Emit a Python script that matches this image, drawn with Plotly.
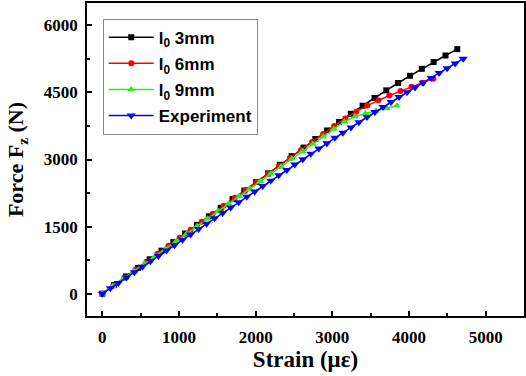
import plotly.graph_objects as go

# Black: l0 = 3mm
x3 = [0,154,309,463,617,772,926,1080,1235,1389,1543,1698,1852,2006,2161,2315,2469,2624,2778,2932,
      3087,3241,3395,3550,3704,3858,4013,4167,4321,4476,4630]
y3 = [0,192,385,576,768,961,1153,1345,1538,1729,1921,2114,2306,2497,2690,2882,3074,3267,3459,3650,
      3838,4022,4202,4376,4546,4711,4872,5028,5180,5326,5468]

# Red: l0 = 6mm
x6 = [0,144,288,432,576,720,864,1008,1152,1296,1440,1584,1728,1872,2016,2160,2304,2448,2592,2736,
      2880,3024,3168,3312,3456,3600,3744,3888,4032,4176,4318]
y6 = [0,179,357,536,714,893,1071,1250,1428,1607,1786,1964,2143,2321,2500,2678,2857,3035,3214,3393,
      3571,3750,3915,4070,4205,4325,4430,4530,4625,4718,4808]

# Green: l0 = 9mm
x9 = [0,137,275,412,549,686,824,961,1098,1235,1373,1510,1647,1784,1922,2059,2196,2333,2471,2608,
      2745,2882,3020,3157,3294,3431,3569,3706,3843]
y9 = [0,167,336,503,670,837,1005,1172,1340,1507,1675,1842,2009,2176,2345,2512,2679,2846,3015,3182,
      3349,3516,3684,3845,3960,4030,4090,4145,4200]

# Blue: experiment
xe = [0,105,209,314,418,523,628,732,837,941,1046,1151,1255,1360,1464,1569,1674,1778,1883,1987,
      2092,2197,2301,2406,2510,2615,2720,2824,2929,3033,3138,3243,3347,3452,3556,3661,3766,3870,
      3975,4079,4184,4289,4393,4498,4602,4707]
ye = [0,121,240,361,481,601,722,842,963,1082,1203,1324,1443,1564,1684,1804,1925,2045,2165,2285,
      2406,2527,2646,2767,2887,3007,3128,3247,3366,3484,3601,3718,3833,3948,4061,4173,4285,4395,
      4504,4612,4719,4825,4935,5042,5148,5255]

names = ["l<sub>0</sub> 3mm", "l<sub>0</sub> 6mm", "l<sub>0</sub> 9mm", "Experiment"]
colors = ["#000000", "#ff0000", "#22ee22", "#0000ff"]
symbols = ["square", "circle", "triangle-up", "triangle-down"]
sizes = [6, 6, 7, 8]
xs = [x3, x6, x9, xe]
ys = [y3, y6, y9, ye]

fig = go.Figure()
for i in range(4):
    fig.add_trace(go.Scatter(
        x=xs[i], y=ys[i], name=names[i], mode="lines+markers",
        line=dict(color=colors[i], width=1.5),
        marker=dict(symbol=symbols[i], size=sizes[i], color=colors[i]),
        legendgroup=str(i),
    ))

axis_common = dict(
    showline=True, linecolor="black", linewidth=1.8, mirror=True,
    ticks="inside", ticklen=5, tickwidth=1.5, tickcolor="black",
    showgrid=False, zeroline=False,
    tickfont=dict(family="Liberation Serif", size=17, color="black", weight="bold"),
    minor=dict(ticks="inside", ticklen=3, tickwidth=1.5, tickcolor="black"),
)

fig.update_xaxes(range=[-200, 5500], tickvals=[0, 1000, 2000, 3000, 4000, 5000],
                 minor_tickvals=[500, 1500, 2500, 3500, 4500],
                 title=dict(text="Strain (\u03bc\u03b5)", standoff=3,
                            font=dict(family="Liberation Serif", size=23, color="black", weight="bold")),
                 ticklabelstandoff=5, **axis_common)
fig.update_yaxes(range=[-500, 6500], tickvals=[0, 1500, 3000, 4500, 6000],
                 minor_tickvals=[750, 2250, 3750, 5250],
                 title=dict(text="Force F<sub>z</sub> (N)", standoff=14,
                            font=dict(family="Liberation Serif", size=22, color="black", weight="bold")),
                 ticklabelstandoff=4, **axis_common)

fig.update_layout(
    width=526, height=376,
    margin=dict(l=87, r=0, t=3, b=60),
    paper_bgcolor="white", plot_bgcolor="white",
    showlegend=True,
    legend=dict(x=0.036, y=0.95, xanchor="left", yanchor="top",
                bordercolor="#888888", borderwidth=1, bgcolor="white",
                font=dict(family="Liberation Sans", size=17, color="black", weight="bold"),
                traceorder="grouped", tracegroupgap=1, itemwidth=45),
)

fig.write_html("out.html")
